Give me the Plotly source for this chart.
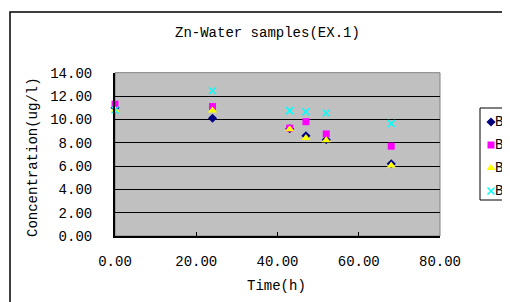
import plotly.graph_objects as go

time_h = [0, 24, 43, 47, 52, 68]
series_names = ["B1", "B2", "B3", "B4"]
b1 = [11.0, 10.1, 9.2, 8.6, 8.25, 6.2]
b2 = [11.3, 11.1, 9.25, 9.8, 8.75, 7.7]
b3 = [10.8, 10.75, 9.15, 8.4, 8.2, 6.05]
b4 = [10.8, 12.45, 10.75, 10.65, 10.55, 9.65]
x_ticks = [0, 20, 40, 60, 80]
y_ticks = [0, 2, 4, 6, 8, 10, 12, 14]

W, H = 502, 294
OFF = 8  # browser body margin


def px(sx):
    return (sx - OFF) / W


def py(sy):
    return 1 - (sy - OFF) / H


FONT = "Liberation Mono"
styles = [
    dict(symbol="diamond", color="#000080", size=7),
    dict(symbol="square", color="#FF00FF", size=7),
    dict(symbol="triangle-up", color="#FFFF00", size=8),
    dict(symbol="x-thin", color="#00FFFF", size=7, line=dict(color="#00FFFF", width=1.5)),
]

fig = go.Figure()
for name, vals, st in zip(series_names, [b1, b2, b3, b4], styles):
    fig.add_trace(go.Scatter(x=time_h, y=vals, mode="markers", name=name,
                             marker=st, cliponaxis=False, showlegend=False))

# hand-built legend (keys on a helper axis, offsets in px from box top-left)
leg_key_y = [14 + 23 * i for i in range(len(series_names))]
for name, ky, st in zip(series_names, leg_key_y, styles):
    fig.add_trace(go.Scatter(x=[11], y=[ky], mode="markers", marker=st,
                             xaxis="x2", yaxis="y2", cliponaxis=False,
                             showlegend=False, hoverinfo="skip"))

annotations = [
    dict(text="Zn-Water samples(EX.1)", xref="paper", yref="paper",
         x=px(267.5), y=py(33), showarrow=False,
         xanchor="center", yanchor="middle", font=dict(size=14)),
    dict(text="Time(h)", xref="paper", yref="paper",
         x=px(276), y=py(286), showarrow=False,
         xanchor="center", yanchor="middle", font=dict(size=14)),
    dict(text="Concentration(ug/l)", xref="paper", yref="paper",
         x=px(33), y=py(157), showarrow=False,
         textangle=-90, xanchor="center", yanchor="middle", font=dict(size=14)),
]
for name, ky in zip(series_names, leg_key_y):
    annotations.append(dict(text=name, xref="paper", yref="paper",
                            x=px(493), y=py(108 + ky), showarrow=False,
                            xanchor="left", yanchor="middle", font=dict(size=14)))

fig.update_layout(
    width=W, height=H,
    margin=dict(l=0, r=0, t=0, b=0, pad=0, autoexpand=False),
    paper_bgcolor="white", plot_bgcolor="#C0C0C0",
    font=dict(family=FONT, size=14, color="black"),
    showlegend=False,
    xaxis=dict(domain=[px(115), px(440)], range=[0, 80], tickvals=x_ticks,
               ticktext=[f"{v:.2f}" for v in x_ticks],
               showgrid=False, zeroline=False, showline=True, linecolor="black",
               linewidth=2, ticks="inside", ticklen=4, tickcolor="black",
               ticklabelstandoff=11, automargin=False),
    yaxis=dict(domain=[py(236), py(72.7)], range=[0, 14], tickvals=y_ticks,
               ticktext=[f"{v:.2f}" for v in y_ticks],
               showgrid=True, gridcolor="black", gridwidth=1, zeroline=False,
               showline=True, linecolor="black", linewidth=2, ticks="inside",
               ticklen=4, tickcolor="black", ticklabelstandoff=18, automargin=False),
    xaxis2=dict(domain=[px(480), 1], range=[0, 30], visible=False, anchor="y2"),
    yaxis2=dict(domain=[py(200), py(108)], range=[92, 0], visible=False, anchor="x2"),
    shapes=[
        dict(type="rect", xref="paper", yref="paper",
             x0=px(115), x1=px(440), y0=py(236), y1=py(72.7),
             line=dict(color="#808080", width=1), layer="below"),
        dict(type="rect", xref="paper", yref="paper",
             x0=px(10), x1=1.2, y0=-0.2, y1=py(12),
             line=dict(color="black", width=1.5)),
        dict(type="rect", xref="paper", yref="paper",
             x0=px(480), x1=1.2, y0=py(200), y1=py(108),
             line=dict(color="black", width=1), fillcolor="white", layer="below"),
    ],
    annotations=annotations,
)
fig.write_html("out.html")
